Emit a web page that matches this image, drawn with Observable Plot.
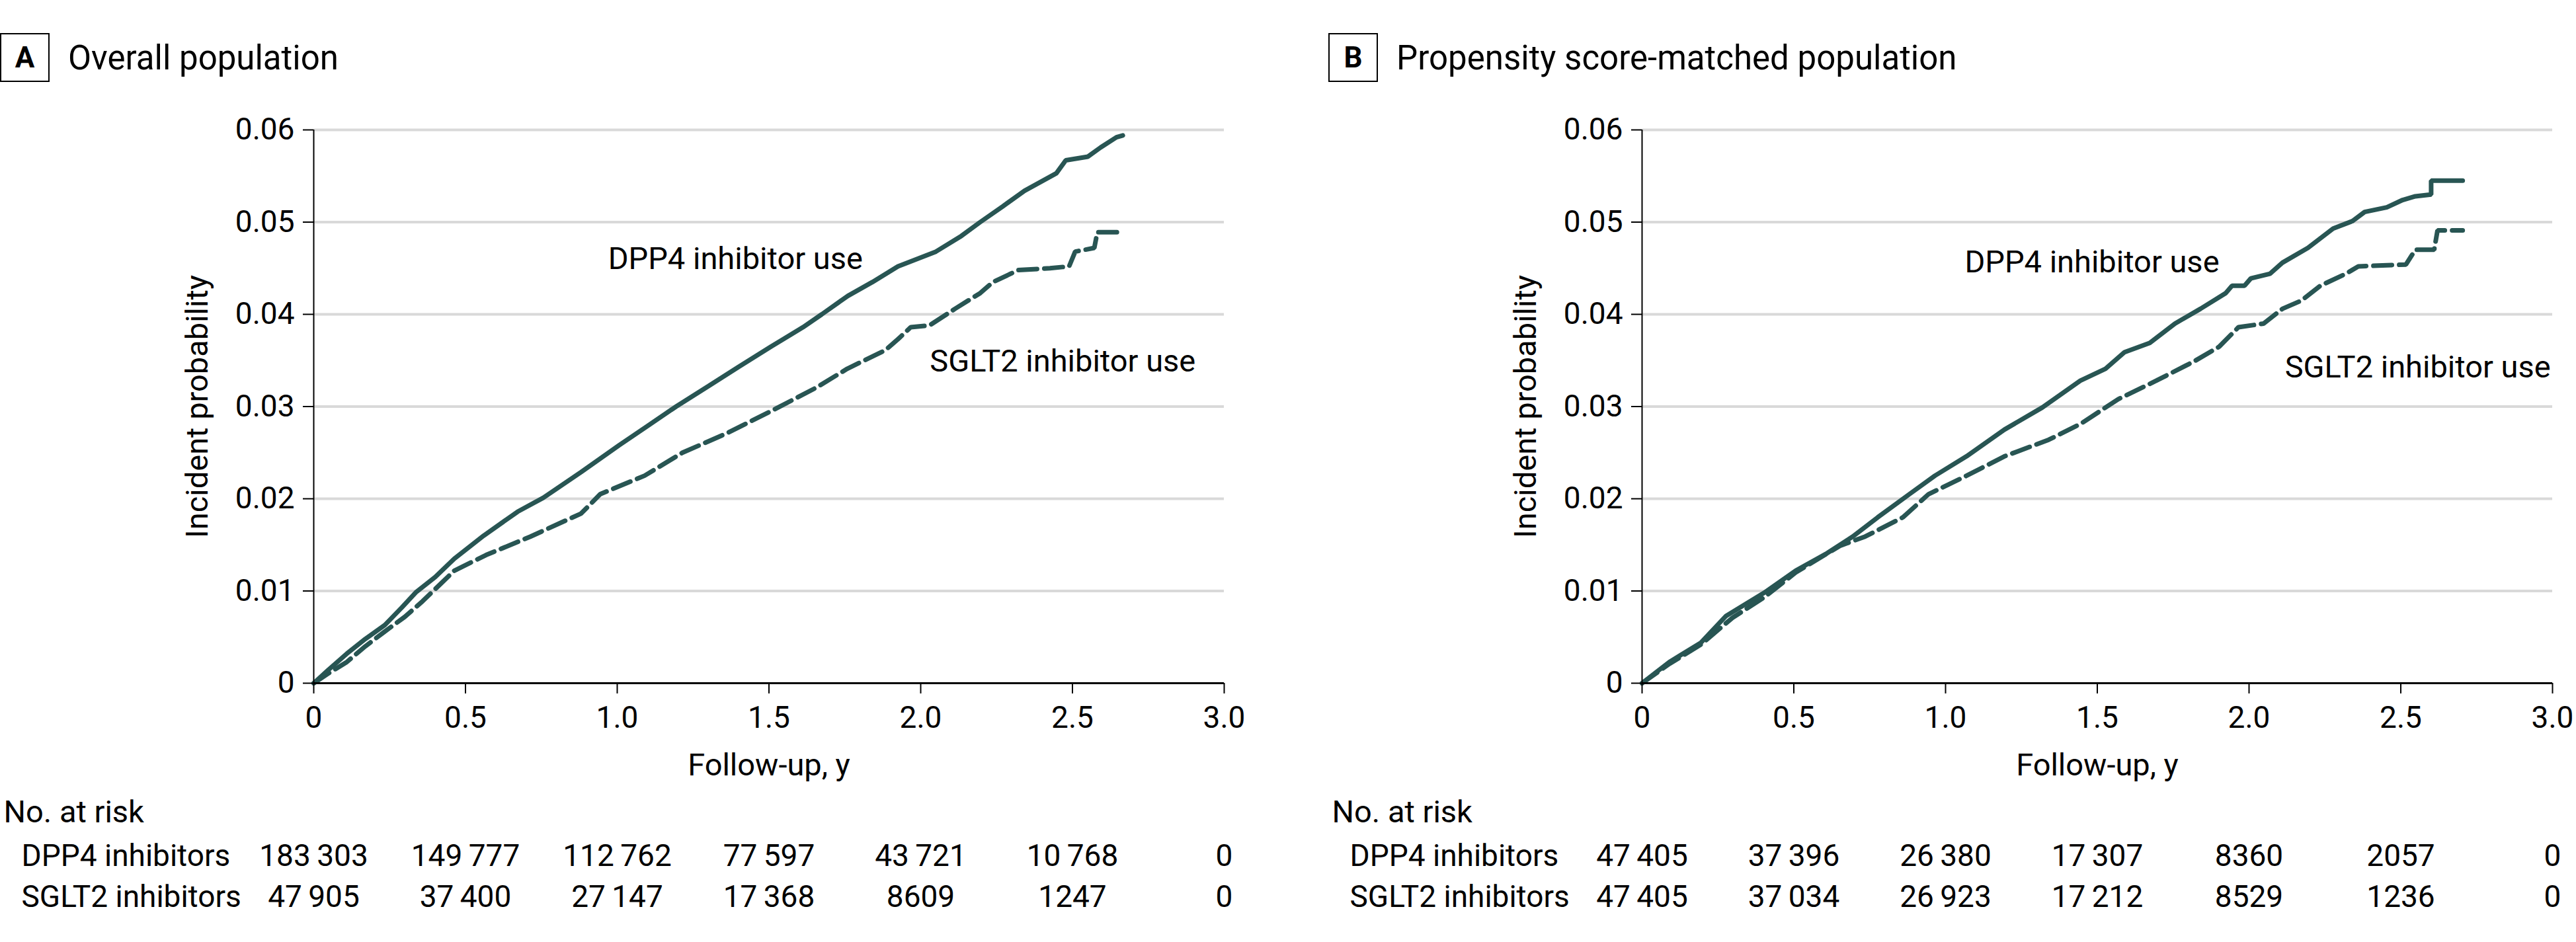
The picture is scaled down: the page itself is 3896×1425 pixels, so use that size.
<!DOCTYPE html>
<html><head><meta charset="utf-8">
<script src="https://cdn.jsdelivr.net/npm/d3@7"></script>
<script src="https://cdn.jsdelivr.net/npm/@observablehq/plot@0.6"></script>
<style>
html,body{margin:0;padding:0;background:#fff}
body{width:3896px;height:1425px;overflow:hidden;position:relative;font-family:Roboto,sans-serif;color:#000}
.panel{position:absolute;top:0;width:1887px;height:1425px}
.box{position:absolute;left:0;top:50px;width:71px;height:70px;border:2px solid #000;font-weight:bold;font-size:44px;display:flex;align-items:center;justify-content:center;line-height:1}
.title{position:absolute;left:103px;top:62px;font-size:51px;line-height:1;white-space:nowrap}
.km{position:absolute;left:0;top:140px}
.risk{position:absolute;left:0;top:1203px}
</style>
</head><body>
<div id="pA" class="panel" style="left:0"></div>
<div id="pB" class="panel" style="left:2009px"></div>
<script>
// ---------- data ----------
const panelLetters = ["A", "B"];
const panelTitles = ["Overall population", "Propensity score-matched population"];
const groups = ["DPP4 inhibitor use", "SGLT2 inhibitor use"];
const riskRowNames = ["DPP4 inhibitors", "SGLT2 inhibitors"];
const xTicks = [0, 0.5, 1.0, 1.5, 2.0, 2.5, 3.0];
const yTicks = [0, 0.01, 0.02, 0.03, 0.04, 0.05, 0.06];

// Panel A: overall population
const dppA_t = [0, 0.05, 0.109, 0.17, 0.234, 0.29, 0.338, 0.40, 0.463, 0.56, 0.672, 0.756, 0.881, 1.006, 1.10, 1.194, 1.30, 1.40, 1.507, 1.612, 1.674, 1.76, 1.841, 1.925, 2.05, 2.134, 2.196, 2.27, 2.342, 2.447, 2.478, 2.551, 2.593, 2.645, 2.666];
const dppA_p = [0, 0.0015, 0.0032, 0.0048, 0.0063, 0.0082, 0.0099, 0.0115, 0.0135, 0.0160, 0.0186, 0.0201, 0.0229, 0.0258, 0.0279, 0.0300, 0.0322, 0.0343, 0.0365, 0.0386, 0.0400, 0.0420, 0.0435, 0.0452, 0.0468, 0.0485, 0.0500, 0.0517, 0.0534, 0.0553, 0.0567, 0.0571, 0.0581, 0.0592, 0.0594];
const sgltA_t = [0, 0.05, 0.109, 0.17, 0.234, 0.30, 0.359, 0.463, 0.568, 0.714, 0.881, 0.944, 1.09, 1.215, 1.361, 1.507, 1.653, 1.758, 1.883, 1.925, 1.967, 2.029, 2.113, 2.196, 2.238, 2.322, 2.426, 2.489, 2.509, 2.572, 2.582, 2.666];
const sgltA_p = [0, 0.0011, 0.0023, 0.0040, 0.0056, 0.0072, 0.0089, 0.0122, 0.0139, 0.0159, 0.0184, 0.0205, 0.0225, 0.0250, 0.0271, 0.0295, 0.0320, 0.0341, 0.0361, 0.0373, 0.0386, 0.0388, 0.0406, 0.0423, 0.0435, 0.0448, 0.0450, 0.0452, 0.0468, 0.0472, 0.0489, 0.0489];

// Panel B: propensity score-matched population
const dppB_t = [0, 0.09, 0.194, 0.277, 0.402, 0.506, 0.610, 0.694, 0.777, 0.881, 0.965, 1.069, 1.194, 1.319, 1.444, 1.527, 1.590, 1.673, 1.756, 1.840, 1.923, 1.944, 1.985, 2.006, 2.069, 2.110, 2.194, 2.277, 2.340, 2.381, 2.454, 2.506, 2.548, 2.600, 2.600, 2.704];
const dppB_p = [0, 0.0023, 0.0044, 0.0073, 0.0098, 0.0122, 0.0141, 0.0159, 0.0180, 0.0205, 0.0225, 0.0246, 0.0275, 0.0299, 0.0328, 0.0341, 0.0359, 0.0369, 0.0390, 0.0406, 0.0423, 0.0431, 0.0431, 0.0439, 0.0444, 0.0456, 0.0472, 0.0493, 0.0501, 0.0511, 0.0516, 0.0524, 0.0528, 0.0530, 0.0545, 0.0545];
const sgltB_t = [0, 0.09, 0.194, 0.298, 0.402, 0.506, 0.652, 0.735, 0.860, 0.944, 1.069, 1.194, 1.340, 1.444, 1.569, 1.694, 1.819, 1.902, 1.965, 2.048, 2.110, 2.173, 2.235, 2.319, 2.360, 2.517, 2.548, 2.610, 2.621, 2.704];
const sgltB_p = [0, 0.0021, 0.0042, 0.0071, 0.0093, 0.0120, 0.0149, 0.0159, 0.0180, 0.0205, 0.0225, 0.0246, 0.0264, 0.0281, 0.0308, 0.0328, 0.0349, 0.0365, 0.0386, 0.0390, 0.0406, 0.0415, 0.0431, 0.0444, 0.0452, 0.0454, 0.0470, 0.0470, 0.0491, 0.0491];

// Numbers at risk (at 0, 0.5, ... 3.0 y)
const riskA_dpp = [183303, 149777, 112762, 77597, 43721, 10768, 0];
const riskA_sglt = [47905, 37400, 27147, 17368, 8609, 1247, 0];
const riskB_dpp = [47405, 37396, 26380, 17307, 8360, 2057, 0];
const riskB_sglt = [47405, 37034, 26923, 17212, 8529, 1236, 0];

// Curve label positions (data coordinates)
const labelPosA = [[0.97, 0.0460], [2.03, 0.0349]];
const labelPosB = [[1.063, 0.0456], [2.118, 0.0342]];

// ---------- drawing ----------
const ink = "#285553";
const font = "Roboto, 'Open Sans', sans-serif";
const zip = (t, p, g) => t.map((d, i) => ({t: d, p: p[i], group: g}));
const fmtRisk = n => n >= 10000 ? d3.format(",")(n).replace(/,/g, "\u2009") : String(n);

function drawPanel(el, letter, title, dpp, sglt, labelPos, riskD, riskS) {
  const box = document.createElement("div"); box.className = "box"; box.textContent = letter; el.appendChild(box);
  const tt = document.createElement("div"); tt.className = "title"; tt.textContent = title; el.appendChild(tt);

  const labels = groups.map((g, i) => ({x: labelPos[i][0], y: labelPos[i][1], text: g}));
  const km = Plot.plot({
    width: 1887, height: 1063,
    marginLeft: 474, marginRight: 36, marginTop: 56, marginBottom: 170,
    style: {fontFamily: font, fontSize: "46px", color: "#000", background: "transparent", overflow: "visible"},
    x: {domain: [0, 3]},
    y: {domain: [0, 0.06]},
    marks: [
      Plot.gridY(yTicks.filter(d => d > 0), {stroke: "#d9d9d9", strokeWidth: 4, strokeOpacity: 1}),
      Plot.line(sglt, {x: "t", y: "p", stroke: ink, strokeWidth: 7, strokeDasharray: "28,11", strokeLinejoin: "miter"}),
      Plot.line(dpp, {x: "t", y: "p", stroke: ink, strokeWidth: 7, strokeLinejoin: "miter"}),
      Plot.ruleX([0], {y1: 0, y2: 0.06, stroke: "#000", strokeWidth: 2}),
      Plot.ruleY([0], {x1: 0, x2: 3, stroke: "#000", strokeWidth: 3}),
      Plot.axisY({ticks: yTicks, tickSize: 16, tickPadding: 13, strokeWidth: 2, label: null,
        tickFormat: d => d === 0 ? "0" : d.toFixed(2)}),
      Plot.axisX({ticks: xTicks, tickSize: 16, tickPadding: 19, strokeWidth: 2, label: null,
        tickFormat: d => d === 0 ? "0" : d.toFixed(1)}),
      Plot.text(labels, {x: "x", y: "y", text: "text", textAnchor: "start", lineAnchor: "middle", fontSize: 47, fill: "#000"}),
      Plot.text(["Incident probability"], {frameAnchor: "left", textAnchor: "middle", lineAnchor: "middle", rotate: -90, dx: -176, fontSize: 47, fill: "#000"}),
      Plot.text(["Follow-up, y"], {frameAnchor: "bottom", textAnchor: "middle", lineAnchor: "middle", dy: 124, fontSize: 47, fill: "#000"})
    ]
  });
  km.classList.add("km");
  el.appendChild(km);

  const riskRows = [
    ...xTicks.map((t, i) => ({t, group: riskRowNames[0], n: riskD[i]})),
    ...xTicks.map((t, i) => ({t, group: riskRowNames[1], n: riskS[i]}))
  ];
  const risk = Plot.plot({
    width: 1887, height: 222,
    marginLeft: 474, marginRight: 36, marginTop: 0, marginBottom: 0,
    style: {fontFamily: font, fontSize: "46px", color: "#000", background: "transparent", overflow: "visible"},
    x: {domain: [0, 3], axis: null},
    y: {type: "point", domain: riskRowNames, range: [92, 154], padding: 0, axis: null},
    marks: [
      Plot.text(riskRows, {x: "t", y: "group", text: d => fmtRisk(d.n), lineAnchor: "middle", fontSize: 46, fill: "#000"}),
      Plot.text(riskRowNames, {y: d => d, text: d => d, frameAnchor: "left", textAnchor: "start", lineAnchor: "middle", dx: -442, fontSize: 46, fill: "#000"}),
      Plot.text(["No. at risk"], {frameAnchor: "top-left", textAnchor: "start", lineAnchor: "middle", dx: -469, dy: 25, fontSize: 47, fill: "#000"})
    ]
  });
  risk.classList.add("risk");
  el.appendChild(risk);
}

drawPanel(document.getElementById("pA"), panelLetters[0], panelTitles[0],
  zip(dppA_t, dppA_p, groups[0]), zip(sgltA_t, sgltA_p, groups[1]), labelPosA, riskA_dpp, riskA_sglt);
drawPanel(document.getElementById("pB"), panelLetters[1], panelTitles[1],
  zip(dppB_t, dppB_p, groups[0]), zip(sgltB_t, sgltB_p, groups[1]), labelPosB, riskB_dpp, riskB_sglt);
</script>
</body></html>
